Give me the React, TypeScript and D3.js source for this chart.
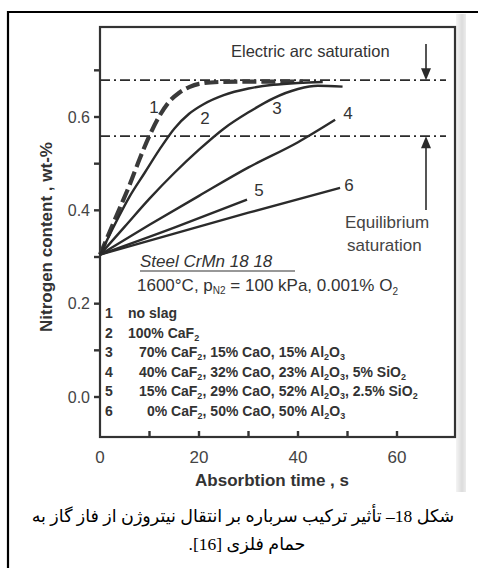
import React from "react";
import * as d3 from "d3";

// absorption time (s) / nitrogen content (wt-%)
const c1T = [0, 2, 4, 6, 8, 10, 12, 14, 16, 18, 20, 24, 30, 36, 41];
const c1N = [0.305, 0.355, 0.405, 0.455, 0.51, 0.56, 0.602, 0.633, 0.652, 0.664, 0.671, 0.675, 0.676, 0.676, 0.676];
const c2T = [0, 3, 6, 9, 12, 15, 18, 21, 25, 30, 35, 40, 45];
const c2N = [0.305, 0.37, 0.43, 0.48, 0.53, 0.575, 0.607, 0.628, 0.647, 0.661, 0.669, 0.673, 0.675];
const c3T = [0, 5, 10, 15, 20, 25, 30, 35, 40, 44, 49];
const c3N = [0.305, 0.365, 0.425, 0.48, 0.53, 0.575, 0.61, 0.64, 0.66, 0.667, 0.665];
const c4T = [0, 10, 20, 30, 40, 47.5];
const c4N = [0.305, 0.369, 0.431, 0.492, 0.546, 0.594];
const c5T = [0, 15, 29.7];
const c5N = [0.305, 0.363, 0.423];
const c6T = [0, 15, 30, 48.5];
const c6N = [0.305, 0.35, 0.395, 0.448];

const curveNames = ["1", "2", "3", "4", "5", "6"];
const arcSat = 0.679;
const eqSat = 0.559;

const yTicks = [0, 0.1, 0.2, 0.3, 0.4, 0.5, 0.6, 0.7];
const yLabels = [0, 0.2, 0.4, 0.6];
const xTicks = [10, 20, 30, 40, 50, 60];
const xLabels = [0, 20, 40, 60];

const legendLabels = [
  "no slag",
  "100% CaF{2}",
  "70% CaF{2}, 15% CaO, 15% Al{2}O{3}",
  "40% CaF{2}, 32% CaO, 23% Al{2}O{3}, 5% SiO{2}",
  "15% CaF{2}, 29% CaO, 52% Al{2}O{3}, 2.5% SiO{2}",
  "0% CaF{2}, 50% CaO, 50% Al{2}O{3}",
];
const legendIndent = [128, 128, 139, 139, 139, 147];

const captionLine1 = "شکل 18– تأثیر ترکیب سرباره بر انتقال نیتروژن از فاز گاز به";
const captionLine2 = "حمام فلزی [16].";

const X = d3.scaleLinear().domain([0, 60]).range([100, 397]);
const Y = d3.scaleLinear().domain([0, 0.6]).range([397, 117]);

const ink = "#2b2b2b";
const font = "'Liberation Sans', Arial, sans-serif";
const capFont = "'Liberation Serif', 'DejaVu Sans', serif";

// "CaF{2}" -> CaF with a subscript 2
function rich(s: string, sub: number, shift: number) {
  const parts = s.split(/\{([^}]*)\}/);
  return parts.map((p, i) =>
    i % 2 === 1 ? (
      <tspan key={i} fontSize={sub} dy={shift}>{p}</tspan>
    ) : (
      <tspan key={i} dy={i === 0 ? undefined : -shift}>{p}</tspan>
    )
  );
}

function measure(s: string, size: number) {
  const ctx = document.createElement("canvas").getContext("2d");
  if (!ctx) return s.length * size * 0.42;
  ctx.font = `${size}px ${capFont}`;
  return ctx.measureText(s).width;
}

export default function App() {
  const line = d3
    .line<[number, number]>()
    .x((d) => X(d[0]))
    .y((d) => Y(d[1]))
    .curve(d3.curveMonotoneX);

  const series = [
    { t: c1T, n: c1N },
    { t: c2T, n: c2N },
    { t: c3T, n: c3N },
    { t: c4T, n: c4N },
    { t: c5T, n: c5N },
    { t: c6T, n: c6N },
  ];
  const labelPos: [number, number][] = [
    [154, 113], [205, 124], [277, 114], [348, 119], [259, 196], [349, 191],
  ];

  const arrowX = 426;
  const yArc = Y(arcSat);
  const yEq = Y(eqSat);

  // fit the first caption line to the width it has in the figure
  const capSize = Math.min(22, (20 * 423) / measure(captionLine1, 20));

  return (
    <svg
      width={478}
      height={568}
      style={{ position: "absolute", left: 0, top: 0, background: "#fff" }}
      fontFamily={font}
    >
      <defs>
        <linearGradient id="edge" x1="0" x2="1" y1="0" y2="0">
          <stop offset="0" stopColor="#f4f4f4" />
          <stop offset="0.6" stopColor="#dcdcdc" />
          <stop offset="1" stopColor="#ececec" />
        </linearGradient>
      </defs>
      <rect x={456} y={14} width={10} height={478} fill="url(#edge)" />

      {/* outer page border */}
      <line x1={7} x2={478} y1={12} y2={12} stroke="#000" strokeWidth={2.2} />
      <line x1={8} x2={8} y1={11} y2={568} stroke="#000" strokeWidth={2.2} />

      {/* plot frame */}
      <rect x={100} y={27} width={355} height={410} fill="none" stroke="#333" strokeWidth={2.2} />

      {yTicks.map((v) => (
        <line key={v} x1={94} x2={100} y1={Y(v)} y2={Y(v)} stroke="#333" strokeWidth={2.4} />
      ))}
      {yLabels.map((v) => (
        <text key={v} x={90} y={Y(v)} dy="0.35em" textAnchor="end" fontSize={16} fill="#444">
          {d3.format(".1f")(v)}
        </text>
      ))}
      {xTicks.map((v) => (
        <line key={v} x1={X(v)} x2={X(v)} y1={437} y2={431} stroke="#333" strokeWidth={2.4} />
      ))}
      {xLabels.map((v) => (
        <text key={v} x={X(v)} y={457} dy="0.35em" textAnchor="middle" fontSize={17} fill="#444">
          {v}
        </text>
      ))}

      <text x={272} y={480} dy="0.35em" textAnchor="middle" fontSize={17} fontWeight="bold" fill="#333">
        {"Absorbtion time ,  s"}
      </text>
      <text
        transform="translate(46,237) rotate(-90)"
        dy="0.35em"
        textAnchor="middle"
        fontSize={17}
        fontWeight="bold"
        fill="#333"
      >
        {"Nitrogen content ,  wt-%"}
      </text>

      {/* saturation levels */}
      {[yArc, yEq].map((y, i) => (
        <line
          key={i}
          x1={100}
          x2={446}
          y1={y}
          y2={y}
          stroke={ink}
          strokeWidth={1.8}
          strokeDasharray="10 4 2 4"
        />
      ))}
      <text x={231} y={51} dy="0.35em" fontSize={16.5} fill="#333">
        Electric arc saturation
      </text>
      <line x1={arrowX} x2={arrowX} y1={44} y2={yArc - 10} stroke={ink} strokeWidth={1.6} />
      <path d={`M${arrowX - 5},${yArc - 12} L${arrowX + 5},${yArc - 12} L${arrowX},${yArc} Z`} fill={ink} />
      <line x1={arrowX} x2={arrowX} y1={yEq + 10} y2={210} stroke={ink} strokeWidth={1.6} />
      <path d={`M${arrowX - 5},${yEq + 12} L${arrowX + 5},${yEq + 12} L${arrowX},${yEq} Z`} fill={ink} />
      <text x={345} y={222} dy="0.35em" fontSize={17} fill="#444">Equilibrium</text>
      <text x={347} y={245} dy="0.35em" fontSize={17} fill="#444">saturation</text>

      {/* curves */}
      {series.map((s, i) => (
        <path
          key={i}
          d={line(s.t.map((t, j) => [t, s.n[j]] as [number, number])) || ""}
          fill="none"
          stroke={i === 0 ? "#3a3a3a" : ink}
          strokeWidth={i === 0 ? 4.2 : 2.4}
          strokeDasharray={i === 0 ? "14 5" : undefined}
          strokeLinecap="butt"
        />
      ))}
      {curveNames.map((c, i) => (
        <text key={c} x={labelPos[i][0]} y={labelPos[i][1]} textAnchor="middle" fontSize={17} fill="#333">
          {c}
        </text>
      ))}

      {/* conditions */}
      <text x={140} y={267} fontSize={17} fontStyle="italic" fill="#333">
        Steel CrMn 18 18
      </text>
      <line x1={140} x2={295} y1={271} y2={271} stroke="#333" strokeWidth={1.2} />
      <text x={137} y={291} fontSize={17} fill="#333">
        {"1600°C, p"}
        <tspan fontSize={10} dy={3}>N2</tspan>
        <tspan dy={-3}>{" = 100 kPa, 0.001% O"}</tspan>
        <tspan fontSize={10} dy={4}>2</tspan>
      </text>

      {legendLabels.map((l, i) => (
        <g key={i} fontWeight="bold" fontSize={14} fill="#333">
          <text x={105} y={318 + i * 19.5}>{curveNames[i]}</text>
          <text x={legendIndent[i]} y={318 + i * 19.5}>
            {rich(l, 9, 3)}
          </text>
        </g>
      ))}

      {/* caption, right-to-left */}
      <g fontFamily={capFont} fontSize={capSize} fill="#000">
        <text x={243} y={522} textAnchor="middle" direction="rtl">
          {captionLine1}
        </text>
        <text x={247} y={550} textAnchor="middle" direction="rtl">
          {captionLine2}
        </text>
      </g>
    </svg>
  );
}
